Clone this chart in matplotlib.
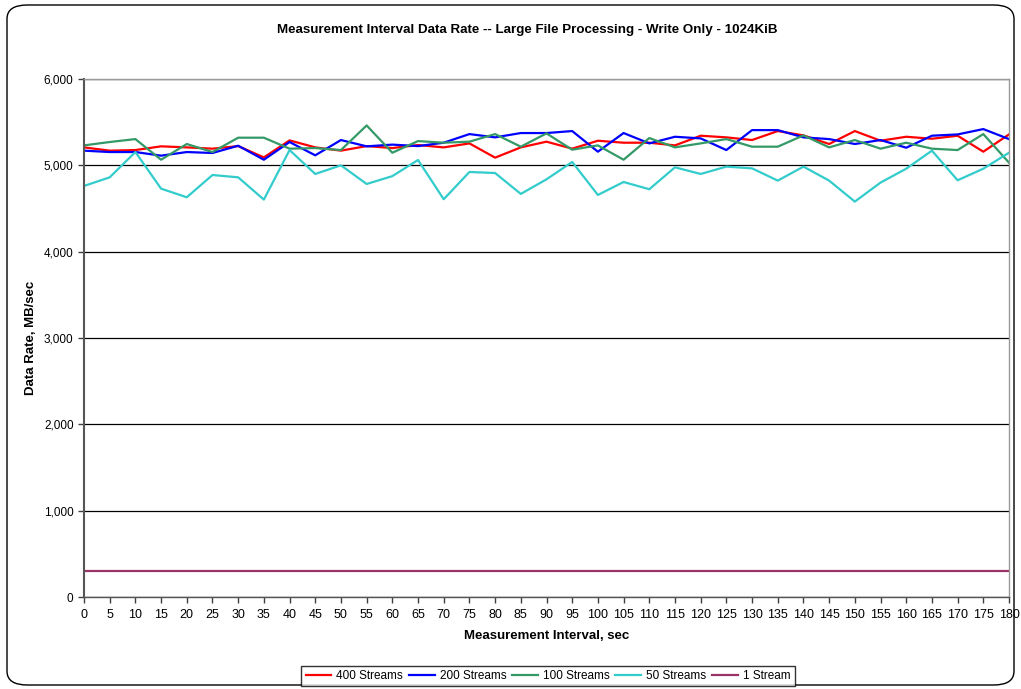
import matplotlib
matplotlib.use("Agg")
import matplotlib.pyplot as plt
from matplotlib.patches import FancyBboxPatch
import numpy as np

# Data
intervals = list(range(0, 181, 5))

streams_400 = [5208, 5170, 5177, 5220, 5208, 5193, 5223, 5092, 5289, 5208,
               5170, 5223, 5200, 5235, 5208, 5254, 5089, 5208, 5274, 5193,
               5285, 5262, 5262, 5231, 5343, 5324, 5293, 5397, 5347, 5247,
               5397, 5285, 5331, 5308, 5343, 5158, 5358]
streams_200 = [5170, 5154, 5154, 5112, 5154, 5143, 5227, 5065, 5270, 5116,
               5293, 5220, 5240, 5223, 5262, 5362, 5324, 5374, 5374, 5397,
               5158, 5374, 5254, 5331, 5312, 5177, 5408, 5408, 5324, 5304,
               5247, 5293, 5204, 5343, 5358, 5420, 5304]
streams_100 = [5231, 5270, 5304, 5065, 5247, 5154, 5320, 5320, 5193, 5200,
               5177, 5462, 5146, 5281, 5262, 5274, 5362, 5216, 5370, 5181,
               5231, 5065, 5316, 5208, 5254, 5304, 5216, 5216, 5347, 5208,
               5293, 5193, 5262, 5193, 5177, 5362, 5031]
streams_50 = [4761, 4861, 5154, 4730, 4630, 4888, 4861, 4603, 5177, 4900,
              5000, 4784, 4875, 5062, 4607, 4923, 4911, 4669, 4838, 5039,
              4657, 4807, 4723, 4977, 4900, 4985, 4965, 4823, 4985, 4823,
              4580, 4800, 4961, 5170, 4827, 4961, 5146]
stream_1 = [305] * len(intervals)

series = [
    ("400 Streams", streams_400, "#FF0000"),
    ("200 Streams", streams_200, "#0000FF"),
    ("100 Streams", streams_100, "#339966"),
    ("50 Streams", streams_50, "#33CCCC"),
    ("1 Stream", stream_1, "#993366"),
]

plt.rcParams["font.family"] = ["Liberation Sans", "DejaVu Sans"]

fig = plt.figure(figsize=(10.21, 6.89), dpi=100)
ax = fig.add_axes([84 / 1021, 1 - 597 / 689, (1009 - 84) / 1021, (597 - 79) / 689])

# rounded chart border
fig.patches.append(FancyBboxPatch((7 / 1021, 4 / 689), 1007 / 1021, 680 / 689,
                                  boxstyle="round,pad=0,rounding_size=0.02",
                                  transform=fig.transFigure, facecolor="none",
                                  edgecolor="black", linewidth=1.0))

for name, vals, col in series:
    ax.plot(intervals, vals, color=col, linewidth=1.6, label=name)

ax.set_xlim(0, 180)
ax.set_ylim(0, 6000)
ax.set_xticks(intervals)
ax.set_yticks(np.arange(0, 6001, 1000))
ax.yaxis.set_major_formatter(matplotlib.ticker.FuncFormatter(lambda v, p: f"{int(v):,}"))
ax.tick_params(direction="out", length=4, width=1, color="#404040")
ax.tick_params(axis="x", labelsize=9, pad=5)
ax.tick_params(axis="y", labelsize=8.5)
ax.grid(axis="y", color="black", linewidth=0.9)
ax.set_axisbelow(True)

for s in ["top", "right"]:
    ax.spines[s].set_color("#999999")
    ax.spines[s].set_linewidth(1.0)
ax.spines["left"].set_color("#555555")
ax.spines["left"].set_linewidth(1.5)
ax.spines["bottom"].set_color("#555555")
ax.spines["bottom"].set_linewidth(1.0)

fig.text(527 / 1021, 1 - 30 / 689,
         "Measurement Interval Data Rate -- Large File Processing - Write Only - 1024KiB",
         fontsize=9.6, fontweight="bold", ha="center", va="center")
ax.set_xlabel("Measurement Interval, sec", fontsize=9.5, fontweight="bold", labelpad=6)
ax.set_ylabel("Data Rate, MB/sec", fontsize=9.5, fontweight="bold", labelpad=5)

leg = fig.legend(loc="center", bbox_to_anchor=(548 / 1021, 1 - 676 / 689), ncol=5,
                 fontsize=8.5, frameon=True, fancybox=False, handlelength=2.2,
                 handletextpad=0.4, columnspacing=0.5, borderpad=0.35)
leg.get_frame().set_edgecolor("black")
leg.get_frame().set_linewidth(1.0)

fig.savefig("out.png", dpi=100)
